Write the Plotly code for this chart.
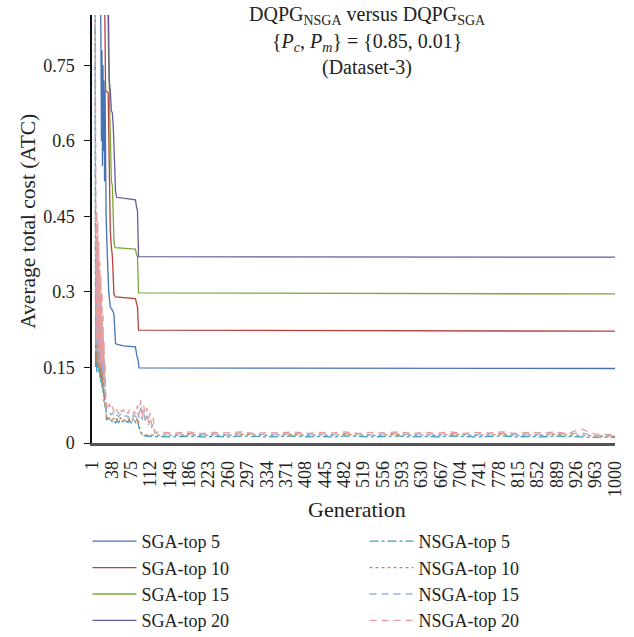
import plotly.graph_objects as go

# ---------------- data ----------------
sga_names = ["SGA-top 5", "SGA-top 10", "SGA-top 15", "SGA-top 20"]
nsga_names = ["NSGA-top 5", "NSGA-top 10", "NSGA-top 15", "NSGA-top 20"]

sga5_x = [1, 10, 16, 17, 18, 19, 20, 21, 22, 23, 24, 25, 26, 27, 29, 32, 35, 40, 42, 45, 60, 83, 86, 88, 90, 1000]
sga5_y = [1.5, 1.1, 0.95, 0.81, 0.6, 0.78, 0.55, 0.75, 0.58, 0.72, 0.52, 0.7, 0.55, 0.45, 0.38, 0.3, 0.27, 0.262, 0.255, 0.197, 0.193, 0.191, 0.172, 0.165, 0.149, 0.148]

sga10_x = [1, 24, 26, 31, 33, 35, 37, 39, 42, 45, 83, 85, 87, 89, 1000]
sga10_y = [1.5, 0.9, 0.70, 0.695, 0.55, 0.42, 0.39, 0.37, 0.295, 0.29, 0.287, 0.28, 0.27, 0.224, 0.222]

sga15_x = [1, 28, 32, 35, 37, 39, 42, 44, 83, 85, 87, 89, 1000]
sga15_y = [1.5, 1.0, 0.75, 0.56, 0.52, 0.51, 0.40, 0.388, 0.385, 0.375, 0.37, 0.298, 0.296]

sga20_x = [1, 30, 33, 35, 37, 39, 41, 45, 47, 83, 85, 87, 89, 1000]
sga20_y = [1.5, 1.0, 0.72, 0.70, 0.66, 0.655, 0.62, 0.50, 0.488, 0.483, 0.47, 0.46, 0.37, 0.369]

gen_early = [1, 4, 6, 7, 8, 9, 10, 11, 12, 13, 14, 15, 16, 17, 18, 19, 20, 21, 22, 23, 24, 25, 26,
             28, 30, 33, 36, 39, 42, 45, 48, 51, 54, 57, 60, 63, 66, 69, 72, 75, 78, 81, 84, 87,
             90, 93, 96, 99, 102, 105, 108, 111, 114, 117, 120]
gen_late = [135, 160, 185, 210, 235, 260, 285, 310, 335, 360, 385, 410, 435, 460, 485, 510, 535, 560,
            585, 610, 635, 660, 685, 710, 735, 760, 785, 810, 835, 860, 885, 910, 935, 960, 985, 1000]

nsga5_early = [1.4, 1.1, 0.88, 0.15, 0.3, 0.14, 0.28, 0.15, 0.25, 0.14, 0.22, 0.13, 0.2, 0.12, 0.18, 0.11, 0.15, 0.1, 0.12, 0.08, 0.1, 0.07, 0.075,
               0.045, 0.05, 0.044, 0.046, 0.042, 0.045, 0.04, 0.044, 0.041, 0.046, 0.042, 0.044, 0.04, 0.043, 0.041, 0.045, 0.04, 0.042, 0.044, 0.04, 0.046,
               0.03, 0.02, 0.015, 0.014, 0.015, 0.013, 0.014, 0.013, 0.014, 0.013, 0.013]
nsga10_early = [1.45, 1.15, 0.9, 0.2, 0.32, 0.16, 0.3, 0.17, 0.27, 0.15, 0.24, 0.14, 0.21, 0.13, 0.19, 0.12, 0.16, 0.11, 0.13, 0.09, 0.1, 0.075, 0.07,
                0.05, 0.052, 0.048, 0.05, 0.046, 0.049, 0.044, 0.048, 0.045, 0.05, 0.046, 0.048, 0.044, 0.047, 0.045, 0.049, 0.044, 0.046, 0.048, 0.044, 0.05,
                0.035, 0.022, 0.017, 0.016, 0.017, 0.015, 0.016, 0.015, 0.016, 0.015, 0.015]
nsga15_early = [1.5, 1.2, 0.9, 0.38, 0.18, 0.4, 0.2, 0.36, 0.16, 0.34, 0.18, 0.3, 0.15, 0.28, 0.16, 0.25, 0.14, 0.22, 0.13, 0.17, 0.11, 0.13, 0.08,
                0.062, 0.058, 0.06, 0.056, 0.06, 0.054, 0.058, 0.055, 0.052, 0.057, 0.054, 0.056, 0.053, 0.055, 0.05, 0.056, 0.052, 0.05, 0.055, 0.052, 0.062,
                0.05, 0.07, 0.046, 0.06, 0.042, 0.055, 0.035, 0.045, 0.03, 0.038, 0.02]
nsga20_early = [1.6, 1.3, 0.95, 0.42, 0.2, 0.46, 0.22, 0.44, 0.18, 0.40, 0.2, 0.36, 0.15, 0.33, 0.17, 0.3, 0.16, 0.26, 0.15, 0.2, 0.13, 0.16, 0.1,
                0.075, 0.065, 0.078, 0.066, 0.072, 0.062, 0.07, 0.064, 0.058, 0.068, 0.062, 0.066, 0.06, 0.064, 0.058, 0.066, 0.06, 0.055, 0.062, 0.058, 0.075,
                0.055, 0.085, 0.05, 0.075, 0.045, 0.07, 0.04, 0.06, 0.035, 0.05, 0.022]

nsga5_late = [0.013, 0.012, 0.014, 0.012, 0.013, 0.012, 0.014, 0.013, 0.012, 0.013, 0.014, 0.012, 0.013, 0.012, 0.014, 0.013, 0.012, 0.013,
              0.014, 0.012, 0.013, 0.012, 0.014, 0.013, 0.012, 0.013, 0.014, 0.012, 0.013, 0.012, 0.014, 0.013, 0.012, 0.011, 0.012, 0.011]
nsga10_late = [0.016, 0.015, 0.017, 0.015, 0.016, 0.015, 0.017, 0.016, 0.015, 0.016, 0.017, 0.015, 0.016, 0.015, 0.017, 0.016, 0.015, 0.016,
               0.017, 0.015, 0.016, 0.015, 0.017, 0.016, 0.015, 0.016, 0.017, 0.015, 0.016, 0.015, 0.017, 0.016, 0.015, 0.014, 0.013, 0.013]
nsga15_late = [0.018, 0.017, 0.019, 0.017, 0.018, 0.016, 0.019, 0.018, 0.017, 0.018, 0.019, 0.017, 0.018, 0.017, 0.019, 0.018, 0.016, 0.018,
               0.019, 0.017, 0.018, 0.017, 0.019, 0.018, 0.017, 0.018, 0.019, 0.017, 0.018, 0.017, 0.019, 0.018, 0.02, 0.015, 0.014, 0.014]
nsga20_late = [0.021, 0.02, 0.022, 0.019, 0.021, 0.02, 0.022, 0.019, 0.021, 0.02, 0.022, 0.019, 0.021, 0.02, 0.022, 0.019, 0.021, 0.02,
               0.022, 0.019, 0.021, 0.02, 0.022, 0.019, 0.021, 0.02, 0.022, 0.019, 0.021, 0.02, 0.022, 0.019, 0.028, 0.018, 0.017, 0.016]

x_tickvals = [1, 38, 75, 112, 149, 186, 223, 260, 297, 334, 371, 408, 445, 482, 519, 556,
              593, 630, 667, 704, 741, 778, 815, 852, 889, 926, 963, 1000]
y_tickvals = [0, 0.15, 0.3, 0.45, 0.6, 0.75]
y_ticktext = ["0", "0.15", "0.3", "0.45", "0.6", "0.75"]

# ---------------- styles ----------------
FONT = "Liberation Serif"
sga_colors = ["#4573b5", "#b8403f", "#7aa83a", "#6a5a9c"]
nsga_colors = ["#3a9fc0", "#d0804c", "#98b3d8", "#e69c9c"]
nsga_dash = ["dashdot", "dot", "7px,5px", "7px,5px"]

fig = go.Figure()
sga_x = [sga5_x, sga10_x, sga15_x, sga20_x]
sga_y = [sga5_y, sga10_y, sga15_y, sga20_y]
for name, xs, ys, c in zip(sga_names, sga_x, sga_y, sga_colors):
    fig.add_trace(go.Scatter(x=xs, y=ys, mode="lines", name=name,
                             line=dict(color=c, width=1.3), legend="legend"))

nsga_y = [nsga5_early + nsga5_late, nsga10_early + nsga10_late,
          nsga15_early + nsga15_late, nsga20_early + nsga20_late]
gens = gen_early + gen_late
for name, ys, c, d in zip(nsga_names, nsga_y, nsga_colors, nsga_dash):
    fig.add_trace(go.Scatter(x=gens, y=ys, mode="lines", name=name,
                             line=dict(color=c, width=1.3, dash=d), legend="legend2"))

legend_common = dict(yref="container", xref="container", y=0.179, xanchor="left",
                     yanchor="top", orientation="v", itemwidth=44,
                     font=dict(size=18, family=FONT, color="#222"), bgcolor="rgba(0,0,0,0)")

fig.update_layout(
    width=634, height=637,
    margin=dict(l=92, r=19, t=15, b=194, autoexpand=False),
    plot_bgcolor="white", paper_bgcolor="white",
    font=dict(family=FONT, size=18, color="#222"),
    xaxis=dict(range=[0, 1000], tickvals=x_tickvals, ticktext=[str(v) for v in x_tickvals],
               tickangle=-90, showgrid=False, zeroline=False, showline=True,
               linecolor="#555", linewidth=2.5, ticks="", ticklabelstandoff=8,
               automargin=False, tickfont=dict(size=18)),
    yaxis=dict(range=[0, 0.85], tickvals=y_tickvals, ticktext=y_ticktext,
               showgrid=False, zeroline=False, showline=True, linecolor="#111",
               linewidth=1.5, ticks="outside", ticklen=6, tickcolor="#111",
               ticklabelstandoff=6, automargin=False, tickfont=dict(size=18)),
    legend=dict(x=0.138, **legend_common),
    legend2=dict(x=0.575, **legend_common),
    showlegend=True,
)

title_lines = [
    ("DQPG<sub>NSGA</sub> versus DQPG<sub>SGA</sub>", 0.9977),
    ("{<i>P</i><sub><i>c</i></sub>, <i>P</i><sub><i>m</i></sub>} = {0.85, 0.01}", 0.9346),
    ("(Dataset-3)", 0.8785),
]
for txt, yy in title_lines:
    fig.add_annotation(text=txt, x=0.526, y=yy, xref="paper", yref="paper",
                       xanchor="center", yanchor="middle", showarrow=False,
                       font=dict(size=20, family=FONT, color="#222"))

fig.add_annotation(text="Generation", x=0.506, y=-0.1565, xref="paper", yref="paper",
                   xanchor="center", yanchor="middle", showarrow=False,
                   font=dict(size=22, family=FONT, color="#222"))
fig.add_annotation(text="Average total cost (ATC)", x=-0.1224, y=0.519, xref="paper", yref="paper",
                   xanchor="center", yanchor="middle", showarrow=False, textangle=-90,
                   font=dict(size=21.5, family=FONT, color="#222"))

fig.write_html("out.html")
